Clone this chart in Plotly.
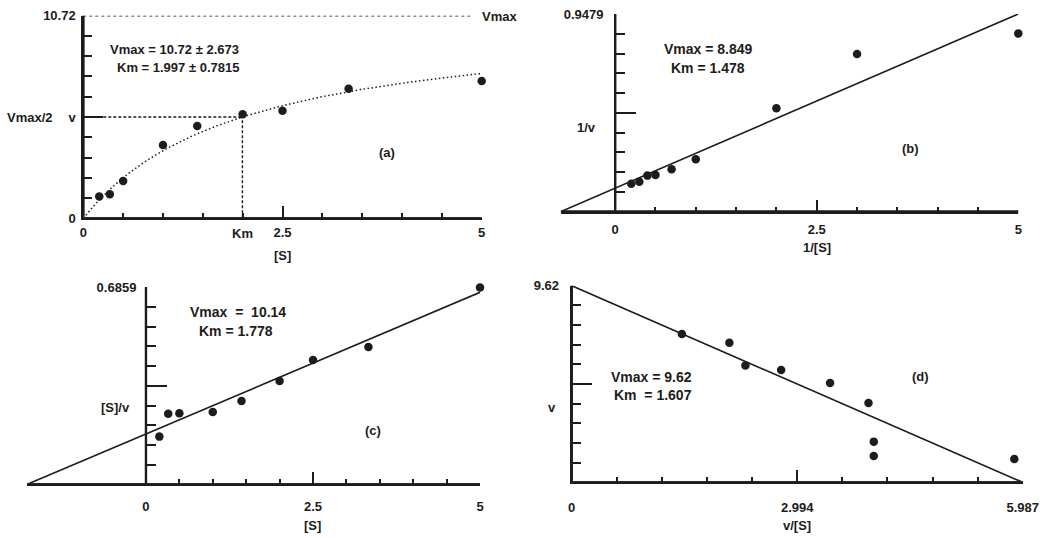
import numpy as np
import plotly.graph_objects as go

W, H = 1045, 538
INK = "#1c1c1c"
FONT = "Liberation Sans"

# ---- measured data for the four plots ----
# (a) Michaelis-Menten: v against [S]
s_mm = [0.2, 0.333, 0.5, 1.0, 1.43, 2.0, 2.5, 3.33, 5.0]
v_mm = [1.15, 1.27, 1.97, 3.88, 4.88, 5.50, 5.69, 6.86, 7.26]

# (b) Lineweaver-Burk: 1/v against 1/[S]
inv_s_lb = [0.2, 0.3, 0.4, 0.5, 0.7, 1.0, 2.0, 3.0, 5.0]
inv_v_lb = [0.134, 0.144, 0.173, 0.176, 0.203, 0.251, 0.496, 0.756, 0.854]

# (c) Hanes-Woolf: [S]/v against [S]
s_hw = [0.2, 0.333, 0.5, 1.0, 1.43, 2.0, 2.5, 3.33, 5.0]
s_over_v_hw = [0.166, 0.246, 0.247, 0.252, 0.290, 0.360, 0.433, 0.478, 0.685]

# (d) Eadie-Hofstee: v against v/[S]
v_over_s_eh = [1.463, 2.093, 2.306, 2.78, 3.43, 3.94, 4.01, 4.01, 5.876]
v_eh = [7.26, 6.83, 5.72, 5.49, 4.86, 3.88, 1.99, 1.29, 1.14]

# fitted constants printed on each plot
VMAX_A, KM_A = 10.72, 1.997
VMAX_B, KM_B = 8.849, 1.478
VMAX_C, KM_C = 10.14, 1.778
VMAX_D, KM_D = 9.62, 1.607
INV_TOP_B = 0.9479
RATIO_TOP_C = 0.6859
VS_RIGHT_D = 5.987

fig = go.Figure()


def px_x(p):
    return p / W


def px_y(p):
    return 1 - p / H


def line(x, y, xa, ya, dash="solid", width=1.6, clip=False):
    fig.add_trace(go.Scatter(x=x, y=y, xaxis=xa, yaxis=ya, mode="lines",
                             line=dict(color=INK, width=width, dash=dash),
                             showlegend=False, cliponaxis=clip, hoverinfo="skip"))


def axis_stroke(xid, yid, x0, y0, x1, y1):
    """Solid axis stroke between two data points, drawn as a headless arrow."""
    fig.add_annotation(x=x1, y=y1, ax=x0, ay=y0, xref=xid, yref=yid,
                       axref=xid, ayref=yid, text="", showarrow=True,
                       arrowhead=0, arrowwidth=2.2, arrowcolor=INK,
                       standoff=0, startstandoff=0)


def add_panel(idx, xr, yr, frame, xmajor, xlabels, xminor, ymajor, ylabels, yminor,
              xstand=6, ystand=4):
    """Create one axis pair; frame = (left, right, top, bottom) in pixels.
    The axes cross at the data origin."""
    left, right, top, bottom = frame
    sx = "" if idx == 1 else str(idx)
    xa, ya = "xaxis" + sx, "yaxis" + sx
    free = xr[0] < 0
    ypos = px_x(left + (0 - xr[0]) / (xr[1] - xr[0]) * (right - left))
    tickfont = dict(family=FONT, size=13, color=INK, weight="bold")
    yextra = dict(anchor="free", position=ypos) if free else dict(anchor="x" + sx)
    common = dict(showline=True, linecolor=INK, linewidth=2, showgrid=False,
                  zeroline=False, tickcolor=INK, tickmode="array",
                  tickfont=tickfont, ticks="inside", tickwidth=2)
    fig.update_layout({
        xa: dict(domain=[px_x(left), px_x(right)], range=xr, anchor="y" + sx,
                 ticklen=12, tickvals=xmajor, ticktext=xlabels,
                 ticklabelstandoff=xstand,
                 minor=dict(tickmode="array", tickvals=xminor, ticks="inside",
                            ticklen=5, tickwidth=1.5, tickcolor=INK,
                            showgrid=False),
                 **common),
        ya: dict(domain=[px_y(bottom), px_y(top)], range=yr,
                 ticklen=20, tickvals=ymajor, ticktext=ylabels,
                 ticklabelstandoff=ystand,
                 minor=dict(tickmode="array", tickvals=yminor, ticks="inside",
                            ticklen=9, tickwidth=2, tickcolor=INK,
                            showgrid=False),
                 **common, **yextra),
    })
    xid, yid = "x" + sx, "y" + sx
    # axis lines through the origin
    line([xr[0], xr[1]], [0, 0], xid, yid, width=2.2, clip=True)
    line([0, 0], [0, yr[1]], xid, yid, width=2.2, clip=True)
    axis_stroke(xid, yid, xr[0], 0, xr[1], 0)
    axis_stroke(xid, yid, 0, 0, 0, yr[1])
    return xid, yid


def steps(top, n=10):
    return [top * k / n for k in range(1, n) if k != n // 2]


def half_steps(lo, hi, step, skip=()):
    vals, k = [], 1
    while lo + k * step < hi - 1e-9:
        v = round(lo + k * step, 6)
        if all(abs(v - s) > 1e-6 for s in skip):
            vals.append(v)
        k += 1
    return vals


def dots(x, y, xa, ya):
    fig.add_trace(go.Scatter(x=x, y=y, xaxis=xa, yaxis=ya, mode="markers",
                             marker=dict(size=8.5, color=INK), showlegend=False,
                             cliponaxis=False, hoverinfo="skip"))


def text(t, x, y, anchor="center", size=13, xref="paper", yref="paper"):
    fig.add_annotation(text=t, x=x, y=y, xref=xref, yref=yref, showarrow=False,
                       xanchor=anchor, yanchor="middle",
                       font=dict(family=FONT, size=size, color=INK, weight="bold"))


# ---------------- (a) Michaelis-Menten ----------------
xa, ya = add_panel(1, [0, 5], [0, VMAX_A], (83.3, 481.7, 15.7, 218.3),
                   [0, 2.5, 5], ["0", "2.5", "5"], half_steps(0, 5, 0.5, skip=(2.5,)),
                   [0, VMAX_A / 2, VMAX_A], ["0", "v", "10.72"], steps(VMAX_A),
                   xstand=1, ystand=3)
s_curve = np.linspace(0, 5, 200)
line(s_curve, VMAX_A * s_curve / (KM_A + s_curve), xa, ya, dash="1.5px,2.5px", width=1.5)
line([0, 4.88], [VMAX_A, VMAX_A], xa, ya, dash="3px,3px", width=1.7)
line([0, KM_A], [VMAX_A / 2, VMAX_A / 2], xa, ya, dash="3px,2px", width=1.6)
line([KM_A, KM_A], [0, VMAX_A / 2], xa, ya, dash="3px,2px", width=1.4)
dots(s_mm, v_mm, xa, ya)
text("Vmax", px_x(480), px_y(16.5), anchor="left")
text("Vmax/2", px_x(30), px_y(117.7))
text("Km", KM_A, px_y(233), xref="x")
text("[S]", 2.5, px_y(255), xref="x")
text(f"Vmax = {VMAX_A} ± 2.673", px_x(241), px_y(49), anchor="right")
text(f"Km = {KM_A} ± 0.7815", px_x(241), px_y(67), anchor="right")
text("(a)", px_x(387), px_y(152))

# ---------------- (b) Lineweaver-Burk ----------------
xb0 = -1 / KM_B
xa, ya = add_panel(2, [xb0, 5], [0, INV_TOP_B], (560.6, 1018.3, 14, 211.7),
                   [0, 2.5, 5], ["0", "2.5", "5"], half_steps(0, 5, 0.5, skip=(2.5,)),
                   [INV_TOP_B / 2, INV_TOP_B], ["", "0.9479"], steps(INV_TOP_B),
                   xstand=5, ystand=8)
xb = np.array([xb0, 5])
line(xb, (KM_B / VMAX_B) * xb + 1 / VMAX_B, xa, ya)
dots(inv_s_lb, inv_v_lb, xa, ya)
text(f"Vmax = {VMAX_B}", px_x(708), px_y(49), size=14)
text(f"Km = {KM_B}", px_x(708), px_y(68), size=14)
text("1/v", px_x(586), px_y(127))
text("(b)", px_x(910), px_y(148))
text("1/[S]", 2.5, px_y(248), xref="x2")

# ---------------- (c) Hanes-Woolf ----------------
xc0 = -KM_C
xa, ya = add_panel(3, [xc0, 5], [0, RATIO_TOP_C], (27.2, 480, 287.3, 484.3),
                   [0, 2.5, 5], ["0", "2.5", "5"], half_steps(0, 5, 0.5, skip=(2.5,)),
                   [RATIO_TOP_C / 2, RATIO_TOP_C], ["", "0.6859"], steps(RATIO_TOP_C),
                   xstand=9, ystand=6)
xc = np.array([xc0, 5])
line(xc, xc / VMAX_C + KM_C / VMAX_C, xa, ya)
dots(s_hw, s_over_v_hw, xa, ya)
text(f"Vmax  =  {VMAX_C}", px_x(238), px_y(312), size=14)
text(f"Km = {KM_C}", px_x(236), px_y(331), size=14)
text("[S]/v", px_x(115), px_y(407))
text("(c)", px_x(373), px_y(430))
text("[S]", 2.5, px_y(525), xref="x3")

# ---------------- (d) Eadie-Hofstee ----------------
xa, ya = add_panel(4, [0, VS_RIGHT_D], [0, VMAX_D], (571.7, 1022.7, 285.7, 482.3),
                   [0, VS_RIGHT_D / 2, VS_RIGHT_D], ["0", "2.994", "5.987"],
                   [VS_RIGHT_D * k / 10 for k in range(1, 10) if k != 5],
                   [VMAX_D / 2, VMAX_D], ["", "9.62"], steps(VMAX_D),
                   xstand=12, ystand=8)
xd = np.array([0, VMAX_D / KM_D])
line(xd, VMAX_D - KM_D * xd, xa, ya)
dots(v_over_s_eh, v_eh, xa, ya)
text(f"Vmax = {VMAX_D}", px_x(694), px_y(377), anchor="right", size=14)
text(f"Km  = {KM_D}", px_x(694), px_y(395), anchor="right", size=14)
text("v", px_x(552), px_y(407))
text("(d)", px_x(920), px_y(376))
text("v/[S]", VS_RIGHT_D / 2, px_y(525), xref="x4")

fig.update_layout(template="none", width=W, height=H,
                  margin=dict(l=0, r=0, t=0, b=0),
                  paper_bgcolor="white", plot_bgcolor="white", showlegend=False)

fig.write_html("out.html")
